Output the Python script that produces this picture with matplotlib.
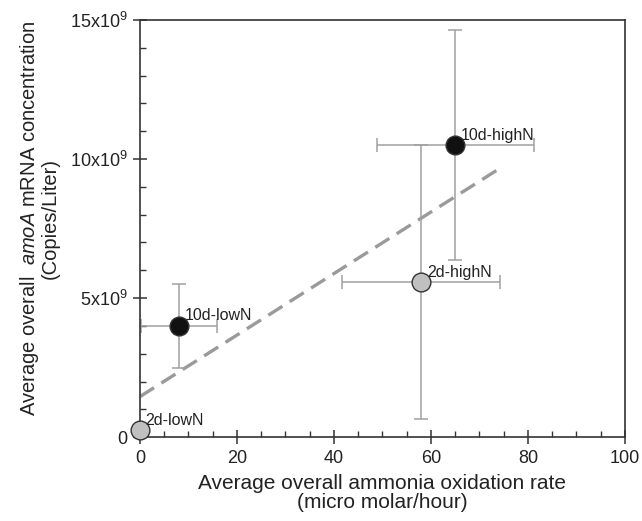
import numpy as np
import matplotlib
matplotlib.use('Agg')
import matplotlib.pyplot as plt
from matplotlib.ticker import MultipleLocator, FixedLocator

plt.rcParams['font.family'] = ['Liberation Sans', 'DejaVu Sans']
plt.rcParams['mathtext.fontset'] = 'custom'
plt.rcParams['mathtext.rm'] = 'Liberation Sans'
plt.rcParams['mathtext.it'] = 'Liberation Sans:italic'

# data (rate in micro molar/hour, mRNA in 1e9 copies/L)
labels = ['2d-lowN', '10d-lowN', '2d-highN', '10d-highN']
rate = [0, 8, 58, 65]
rate_err = [0, 7.8, 16.3, 16.2]
mrna = [0.25, 4.0, 5.57, 10.5]
mrna_err = [0, 1.5, 4.93, 4.13]
colors = ['#c0c0c0', '#111111', '#c0c0c0', '#111111']
ytick_vals = [0, 5, 10, 15]
ytick_text = ['0', '5x10$^{9}$', '10x10$^{9}$', '15x10$^{9}$']

fig = plt.figure(figsize=(6.42, 5.21), dpi=100)
ax = fig.add_axes([0.218, 0.161, 0.7555, 0.8006])

for i in range(len(labels)):
    ax.errorbar(rate[i], mrna[i], xerr=rate_err[i] or None, yerr=mrna_err[i] or None,
                fmt='none', ecolor='#a0a0a0', elinewidth=1.1, capsize=5, capthick=1.1, zorder=2)

# trend line
k, b = np.polyfit(rate, mrna, 1)
xl = np.array([0, 74])
ax.plot(xl, k * xl + b, linestyle=(0, (5, 2.6)), color='#9a9a9a', linewidth=2.4, zorder=1)

for i in range(len(labels)):
    ax.plot(rate[i], mrna[i], 'o', markersize=13.5, markerfacecolor=colors[i],
            markeredgecolor='#333333', markeredgewidth=1.0, zorder=3, clip_on=False)
    ax.annotate(labels[i], (rate[i], mrna[i]), xytext=(4, 4), textcoords='offset points',
                fontsize=11.5, color='#222222', zorder=4)

ax.set_xlim(0, 100)
ax.set_ylim(0, 15)
ax.xaxis.set_major_locator(MultipleLocator(20))
ax.xaxis.set_minor_locator(MultipleLocator(5))
ax.yaxis.set_major_locator(FixedLocator(ytick_vals))
ax.set_yticklabels(ytick_text)
ax.yaxis.set_minor_locator(MultipleLocator(1))
ax.tick_params(which='major', direction='inout', length=10, width=1.1, labelsize=13, colors='#333333',
               labelcolor='#222222', pad=4)
ax.tick_params(which='minor', direction='in', length=4, width=1.0, colors='#333333')
for s in ax.spines.values():
    s.set_color('#333333')
    s.set_linewidth(1.2)

ax.set_xlabel('Average overall ammonia oxidation rate\n(micro molar/hour)', fontsize=15,
              color='#222222', linespacing=1.05, labelpad=5)
ax.set_ylabel('Average overall  $\\it{amoA}$ mRNA concentration\n(Copies/Liter)', fontsize=14.5,
              color='#222222', linespacing=1.0)
ax.yaxis.set_label_coords(-0.165, 0.525)

fig.savefig('out.png', dpi=100)
